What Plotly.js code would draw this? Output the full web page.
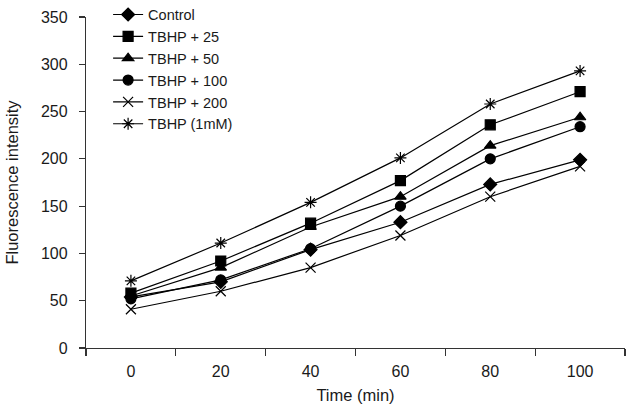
<!DOCTYPE html>
<html>
<head>
<meta charset="utf-8">
<script src="https://cdn.plot.ly/plotly-3.0.1.min.js"></script>
<style>html,body{margin:0;padding:0;background:#fff;}#chart{width:629px;height:411px;}</style>
</head>
<body>
<div id="chart"></div>
<script>
const timeLabels = ["0", "20", "40", "60", "80", "100"];
const seriesNames = ["Control", "TBHP + 25", "TBHP + 50", "TBHP + 100", "TBHP + 200", "TBHP (1mM)"];
const control  = [54, 70, 104, 133, 173, 199];
const tbhp25   = [58, 92, 132, 177, 236, 271];
const tbhp50   = [55, 85, 128, 160, 214, 244];
const tbhp100  = [52, 72, 105, 150, 200, 234];
const tbhp200  = [41, 60, 85, 119, 160, 192];
const tbhp1mM  = [71, 111, 154, 201, 258, 293];
const seriesValues = [control, tbhp25, tbhp50, tbhp100, tbhp200, tbhp1mM];
const symbols = ["diamond", "square", "triangle-up", "circle", "x-thin-open", "asterisk-open"];
const sizes = [10, 10, 10, 10, 10, 10];

const family = "Liberation Sans, Arial, sans-serif";
const tickFont = {family: family, size: 16, color: "#1a1a1a"};
const legendFont = {family: family, size: 14.5, color: "#1a1a1a"};
const titleFont = {family: family, size: 16.5, color: "#1a1a1a"};

const traces = seriesNames.map((name, i) => ({
  type: "scatter",
  mode: "lines+markers",
  name: name,
  x: timeLabels,
  y: seriesValues[i],
  line: {color: "#000", width: 1.2},
  marker: {symbol: symbols[i], size: sizes[i], color: "#000", line: {color: "#000", width: 1.2}}
}));

const layout = {
  width: 629, height: 411,
  margin: {l: 86, r: 4, t: 17, b: 63, autoexpand: false},
  paper_bgcolor: "#fff", plot_bgcolor: "#fff",
  font: tickFont,
  showlegend: true,
  legend: {x: 0.041, y: 1.0556, xanchor: "left", yanchor: "top", bgcolor: "rgba(0,0,0,0)", font: legendFont, tracegroupgap: 0},
  xaxis: {
    type: "category",
    range: [-0.5, 5.5],
    tickson: "boundaries",
    ticks: "outside", ticklen: 7, tickcolor: "#333", tickwidth: 1.2,
    showline: true, linecolor: "#333", linewidth: 1.2,
    showgrid: false, zeroline: false,
    tickfont: tickFont,
    ticklabelstandoff: 9,
    title: {text: "Time (min)", font: titleFont, standoff: 10}
  },
  yaxis: {
    range: [0, 350], dtick: 50,
    ticks: "outside", ticklen: 6, tickcolor: "#333", tickwidth: 1.2,
    showline: true, linecolor: "#333", linewidth: 1.2,
    showgrid: false, zeroline: false,
    tickfont: tickFont,
    ticklabelstandoff: 8,
    title: {text: "Fluorescence intensity", font: titleFont, standoff: 18}
  }
};

Plotly.newPlot("chart", traces, layout, {displayModeBar: false, staticPlot: true});
</script>
</body>
</html>
